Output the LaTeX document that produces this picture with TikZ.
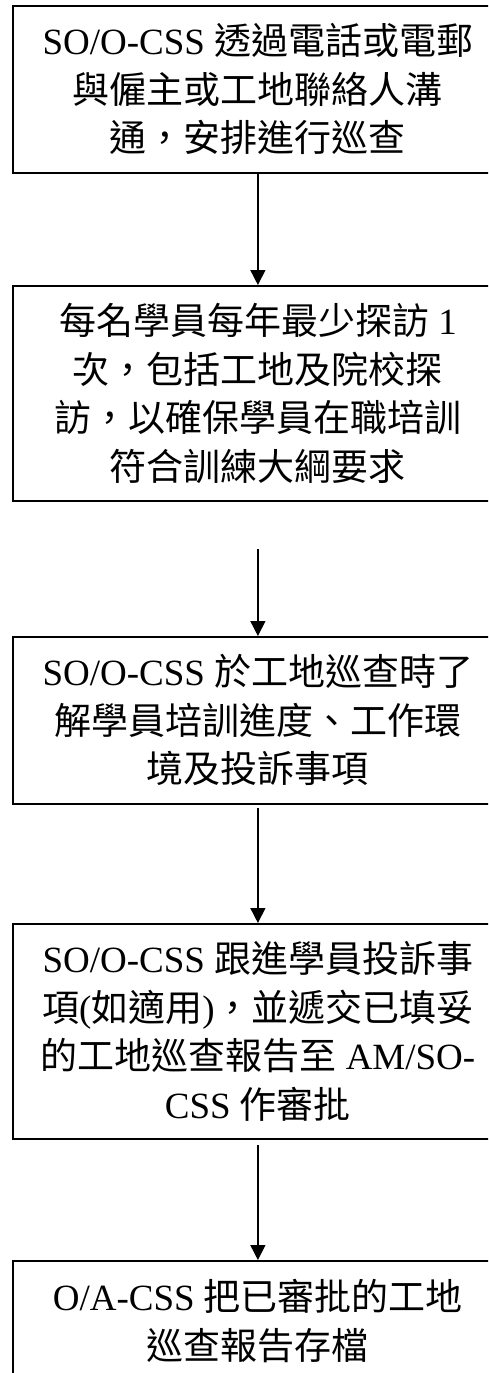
\documentclass[tikz,border=0pt]{standalone}
\usepackage{fontspec}
\setmainfont{Liberation Serif}
\newfontfamily\cjk{Noto Sans CJK TC}
\usetikzlibrary{arrows.meta}
\begin{document}
\begin{tikzpicture}[x=1pt,y=-1pt,
  box/.style={draw, line width=1.8pt, minimum width=490pt, inner sep=0pt,
    align=center, font=\fontsize{37}{48.5}\selectfont, anchor=north west},
  conn/.style={-{Triangle[width=15pt,length=15pt]}, line width=1.5pt}]
\useasboundingbox (0,0) rectangle (488,1373);
\clip (0,0) rectangle (488,1373);
\node[box, minimum height=167pt] (b1) at (12,5)
  {SO/O-CSS {\cjk 透過電話或電郵}\\{\cjk 與僱主或工地聯絡人溝}\\{\cjk 通，安排進行巡查}};
\node[box, minimum height=215pt] (b2) at (12,285)
  {{\cjk 每名學員每年最少探訪} 1\\{\cjk 次，包括工地及院校探}\\{\cjk 訪，以確保學員在職培訓}\\{\cjk 符合訓練大綱要求}};
\node[box, minimum height=167pt] (b3) at (12,636)
  {SO/O-CSS {\cjk 於工地巡查時了}\\{\cjk 解學員培訓進度、工作環}\\{\cjk 境及投訴事項}};
\node[box, minimum height=215pt] (b4) at (12,923)
  {SO/O-CSS {\cjk 跟進學員投訴事}\\{\cjk 項}({\cjk 如適用}){\cjk ，並遞交已填妥}\\{\cjk 的工地巡查報告至} AM/SO-\\CSS {\cjk 作審批}};
\node[box, minimum height=120pt] (b5) at (12,1260)
  {O/A-CSS {\cjk 把已審批的工地}\\{\cjk 巡查報告存檔}};
\draw[conn] (b1.south) -- (b2.north);
\draw[conn, shorten <=47pt] (b2.south) -- (b3.north);
\draw[conn, shorten <=3pt] (b3.south) -- (b4.north);
\draw[conn, shorten <=5pt] (b4.south) -- (b5.north);
\end{tikzpicture}
\end{document}
